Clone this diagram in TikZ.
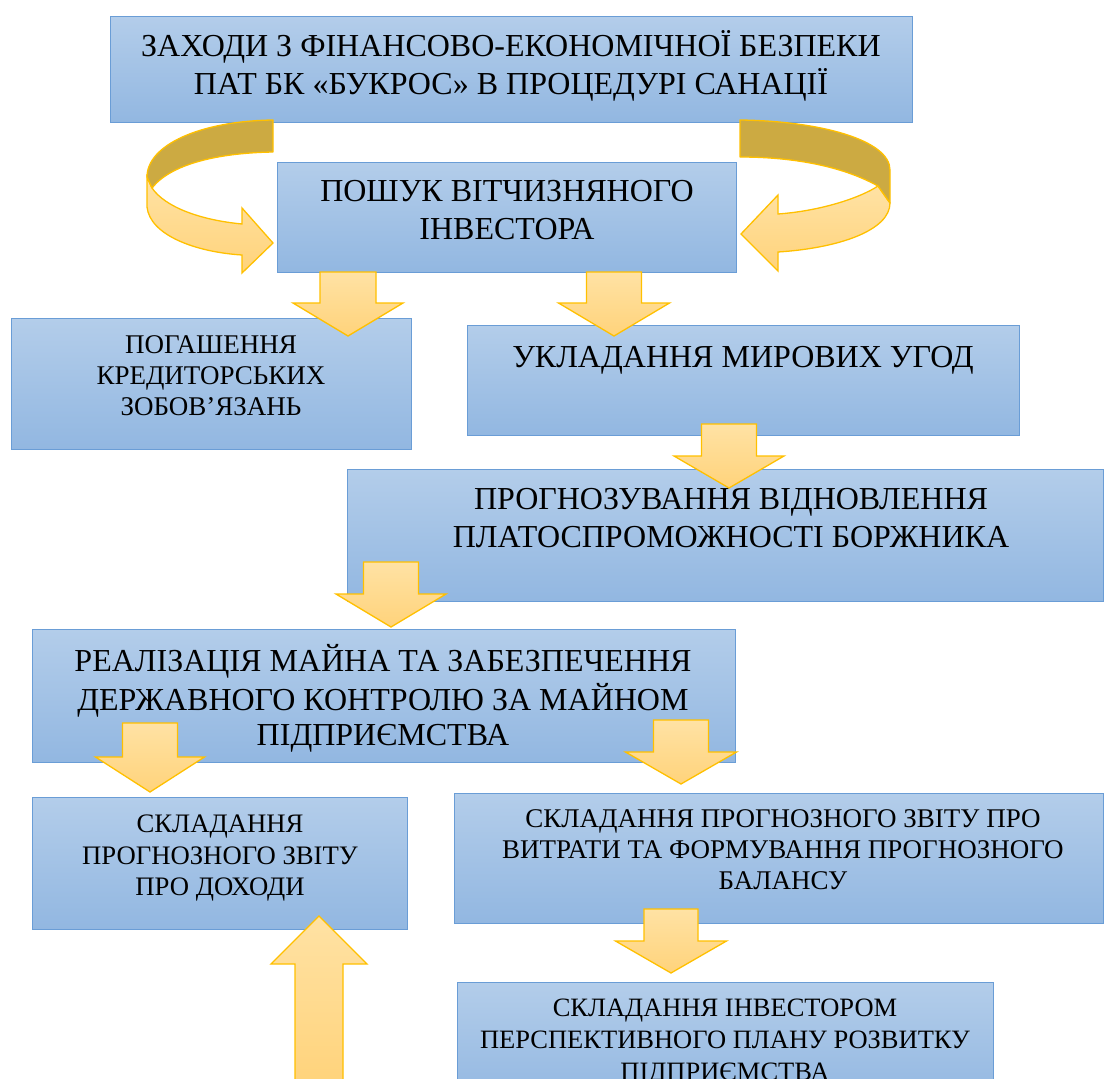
\documentclass[tikz,border=0pt]{standalone}
\usepackage{fontspec}
\setmainfont{Liberation Serif}
\definecolor{BoxTop}{HTML}{B3CDEA}
\definecolor{BoxBot}{HTML}{92B7E1}
\definecolor{BoxLine}{HTML}{6A9DD6}
\definecolor{ArrTop}{HTML}{FFE2A4}
\definecolor{ArrBot}{HTML}{FFD37B}
\definecolor{ArrLine}{HTML}{FFC000}
\definecolor{ArrDark}{HTML}{CCAA42}
\tikzset{
  box/.style={rectangle, draw=BoxLine, line width=1.2pt, top color=BoxTop, bottom color=BoxBot, anchor=north west, inner sep=0pt},
  txt/.style={inner sep=0pt, anchor=north, align=center, text=black},
  blk/.style={draw=ArrLine, line width=1.3pt, top color=ArrTop, bottom color=ArrBot, line join=miter},
  blkdark/.style={draw=ArrLine, line width=1.3pt, fill=ArrDark, line join=round}
}
\newcommand\blkdown[6]{\path[blk] (#1-#5,#2) -- (#1+#5,#2) -- (#1+#5,#3) -- (#1+#6,#3) -- (#1,#4) -- (#1-#6,#3) -- (#1-#5,#3) -- cycle;}
\begin{document}
\begin{tikzpicture}[x=1pt,y=-1pt]
\useasboundingbox (0,0) rectangle (1104,1079);
\fill[white] (0,0) rectangle (1104,1079);
% boxes
\node[box, minimum width=802pt, minimum height=106pt] (b0) at (110,16) {};
\node[box, minimum width=459pt, minimum height=110pt] (b1) at (277,162) {};
\node[box, minimum width=400pt, minimum height=131pt] (b2) at (11,318) {};
\node[box, minimum width=552pt, minimum height=110pt] (b3) at (467,325) {};
\node[box, minimum width=756pt, minimum height=132pt] (b4) at (347,469) {};
\node[box, minimum width=703pt, minimum height=133pt] (b5) at (32,629) {};
\node[box, minimum width=375pt, minimum height=132pt] (b6) at (32,797) {};
\node[box, minimum width=649pt, minimum height=130pt] (b7) at (454,793) {};
\node[box, minimum width=536pt, minimum height=120pt] (b8) at (457,982) {};
% texts
\node[txt, font=\fontsize{32}{37}\selectfont] (t0) at (511,30.1) {\strut ЗАХОДИ З ФІНАНСОВО-ЕКОНОМІЧНОЇ БЕЗПЕКИ\\ПАТ БК «БУКРОС» В ПРОЦЕДУРІ САНАЦІЇ};
\node[txt, font=\fontsize{32}{38}\selectfont] (t1) at (507,174.4) {\strut ПОШУК ВІТЧИЗНЯНОГО\\ІНВЕСТОРА};
\node[txt, font=\fontsize{27}{31}\selectfont] (t2) at (211,331.3) {\strut ПОГАШЕННЯ\\КРЕДИТОРСЬКИХ\\ЗОБОВ’ЯЗАНЬ};
\node[txt, font=\fontsize{32}{37}\selectfont] (t3) at (743,341.1) {\strut УКЛАДАННЯ МИРОВИХ УГОД};
\node[txt, font=\fontsize{32}{38}\selectfont] (t4) at (731,482.4) {\strut ПРОГНОЗУВАННЯ ВІДНОВЛЕННЯ\\ПЛАТОСПРОМОЖНОСТІ БОРЖНИКА};
\node[txt, font=\fontsize{32}{35.8}\selectfont] (t5) at (383,643.9) {\strut РЕАЛІЗАЦІЯ МАЙНА ТА ЗАБЕЗПЕЧЕННЯ\\ДЕРЖАВНОГО КОНТРОЛЮ ЗА МАЙНОМ\\ПІДПРИЄМСТВА};
\node[txt, font=\fontsize{26.7}{31.5}\selectfont] (t6) at (220,810.5) {\strut СКЛАДАННЯ\\ПРОГНОЗНОГО ЗВІТУ\\ПРО ДОХОДИ};
\node[txt, font=\fontsize{27}{31}\selectfont] (t7) at (783,806) {\strut СКЛАДАННЯ ПРОГНОЗНОГО ЗВІТУ ПРО\\ВИТРАТИ ТА ФОРМУВАННЯ ПРОГНОЗНОГО\\БАЛАНСУ};
\node[txt, font=\fontsize{26.5}{32}\selectfont] (t8) at (725,993.6) {\strut СКЛАДАННЯ ІНВЕСТОРОМ\\ПЕРСПЕКТИВНОГО ПЛАНУ РОЗВИТКУ\\ПІДПРИЄМСТВА};
% curved arrows (left)
\path[blk] (147,177) -- (147,207) .. controls (150,235) and (195,252) .. (242,255) -- (242,273) -- (273,243) -- (242,208) -- (242,224) .. controls (200,220) and (165,207) .. (152,188) -- cycle;
\path[blkdark] (273,120) .. controls (200,121) and (147,145) .. (147,177) -- (152,188) .. controls (170,165) and (215,153) .. (273,152) -- cycle;
% curved arrows (right)
\path[blk] (878,186) -- (890,203) .. controls (890,230) and (840,248) .. (778,252) -- (778,271) -- (741,234) -- (778,195) -- (778,214) .. controls (820,211) and (860,198) .. (878,186) -- cycle;
\path[blkdark] (740,120) .. controls (820,121) and (890,140) .. (890,170) -- (890,203) -- (878,186) .. controls (840,165) and (790,157) .. (740,157) -- cycle;
% straight block arrows
\blkdown{348}{272}{303}{336}{28}{55}
\blkdown{614}{272}{303}{336}{27.5}{55.5}
\blkdown{729}{424}{456}{488}{27.5}{55}
\blkdown{391}{562}{594}{627}{27.5}{55}
\blkdown{150}{723}{757}{792}{27.5}{54.5}
\blkdown{681}{720}{752}{784}{27.5}{55.5}
\blkdown{671}{909}{941}{973}{27}{55.5}
% up arrow
\path[blk] (295,1085) -- (295,964) -- (271,964) -- (319,916) -- (367,964) -- (343,964) -- (343,1085) -- cycle;
\end{tikzpicture}
\end{document}
